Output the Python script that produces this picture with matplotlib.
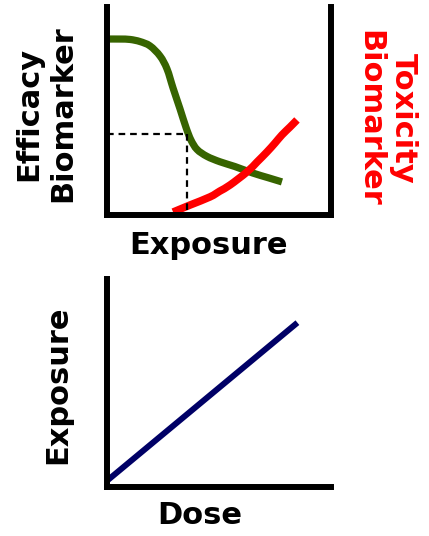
import matplotlib
matplotlib.use("Agg")
import matplotlib.pyplot as plt
import numpy as np
from matplotlib.path import Path
from matplotlib.patches import PathPatch

# efficacy biomarker (green) vs exposure
eff_x = [0, 5.8, 10.3, 14.7, 19.2, 23.7, 26.8, 29.5, 32.6, 35.3, 37.5, 40.2,
         44.6, 50.4, 57.1, 65.0, 72.0, 78.1]
eff_y = [84.6, 84.6, 84.4, 83.4, 81.3, 76.4, 70.2, 61.0, 51.0, 42.0, 36.0, 31.5,
         28.2, 25.6, 23.3, 20.2, 17.9, 15.9]

# toxicity biomarker (red) vs exposure
tox_x = [29.5, 37.1, 46.0, 50.4, 54.9, 62.5, 67.0, 71.4, 75.0, 78.1, 81.7, 84.8]
tox_y = [1.4, 4.8, 8.7, 11.5, 14.4, 20.7, 25.5, 30.3, 34.6, 38.5, 42.3, 45.7]

# target exposure (dashed guide)
target_x = 35.5
target_y = 39.0

# exposure vs dose (navy)
dose = [0, 85]
expo = [3, 79]

BOLD = dict(fontweight="bold", fontsize=22, family="DejaVu Sans")


def smooth_path(xs, ys):
    """Catmull-Rom curve through the points, as cubic bezier segments."""
    p = np.column_stack([xs, ys]).astype(float)
    p = np.vstack([p[0], p, p[-1]])
    verts = [p[1]]
    codes = [Path.MOVETO]
    for i in range(1, len(p) - 2):
        c1 = p[i] + (p[i + 1] - p[i - 1]) / 6
        c2 = p[i + 1] - (p[i + 2] - p[i]) / 6
        verts += [c1, c2, p[i + 1]]
        codes += [Path.CURVE4] * 3
    return Path(verts, codes)


def curve(ax, xs, ys, color, lw):
    ax.add_patch(PathPatch(smooth_path(xs, ys), facecolor="none",
                           edgecolor=color, lw=lw, capstyle="butt"))


fig = plt.figure(figsize=(4.29, 5.36), dpi=100)

ax1 = fig.add_axes([0.2494, 0.5989, 0.5222, 0.3880])
curve(ax1, eff_x, eff_y, "#376400", 5.2)
curve(ax1, tox_x, tox_y, "#ff0000", 5.5)
ax1.plot([0, target_x], [target_y, target_y], "k--", lw=1.6, dashes=(3, 2.2))
ax1.plot([target_x, target_x], [target_y, 0], "k--", lw=1.6, dashes=(3, 2.2))
ax1.set_xlim(0, 100)
ax1.set_ylim(0, 100)
ax1.spines["top"].set_visible(False)
for s in ["left", "right", "bottom"]:
    ax1.spines[s].set_linewidth(4.3)
    ax1.spines[s].set_capstyle("projecting")
ax1.set_xticks([])
ax1.set_yticks([])

ax2 = fig.add_axes([0.2494, 0.0914, 0.5222, 0.3881])
ax2.plot(dose, expo, color="#000066", lw=4.3, solid_capstyle="butt")
ax2.set_xlim(0, 100)
ax2.set_ylim(0, 100)
ax2.spines["top"].set_visible(False)
ax2.spines["right"].set_visible(False)
for s in ["left", "bottom"]:
    ax2.spines[s].set_linewidth(4.3)
    ax2.spines[s].set_capstyle("projecting")
ax2.set_xticks([])
ax2.set_yticks([])

fig.text(46 / 429, 1 - 114 / 536, "Efficacy\nBiomarker", rotation=90,
         ha="center", va="center", linespacing=1.2, color="black", **BOLD)
fig.text(387 / 429, 1 - 118 / 536, "Toxicity\nBiomarker", rotation=270,
         ha="center", va="center", linespacing=1.2, color="#ff0000", **BOLD)
fig.text(208 / 429, 1 - 246 / 536, "Exposure", ha="center", va="center",
         color="black", **BOLD)
fig.text(58 / 429, 1 - 385 / 536, "Exposure", rotation=90, ha="center",
         va="center", color="black", **BOLD)
fig.text(200 / 429, 1 - 516 / 536, "Dose", ha="center", va="center",
         color="black", **BOLD)

fig.savefig("out.png", dpi=100)
